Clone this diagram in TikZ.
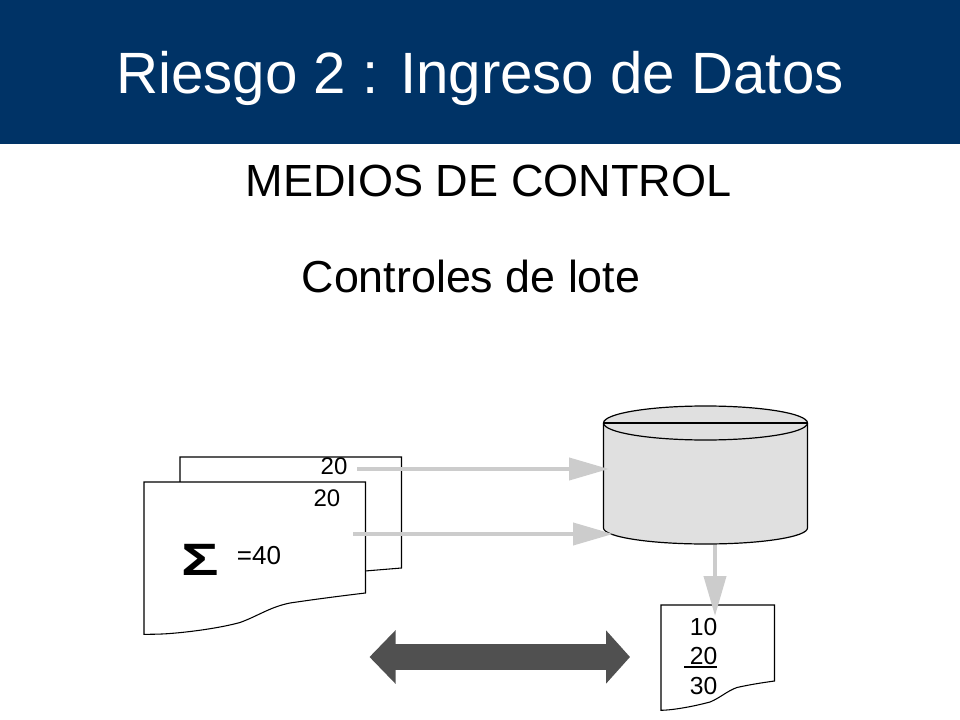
\documentclass[tikz,border=0pt]{standalone}
\usepackage{fontspec}
\setmainfont{Liberation Sans}
\usetikzlibrary{arrows.meta}
\definecolor{banner}{HTML}{003366}
\definecolor{flow}{HTML}{CCCCCC}
\definecolor{link}{HTML}{505050}
\definecolor{drum}{HTML}{E0E0E0}
\newcommand{\fsz}[1]{\fontsize{#1}{#1}\selectfont}
\tikzset{
  x=0.75pt,y=-0.75pt,
  lbl/.style={inner sep=0pt,text=black,anchor=center},
  sheet/.style={draw=black,line width=0.8pt,fill=white},
  flowarrow/.style={draw=flow,line width=3pt,-{Triangle[length=30pt,width=16.5pt,fill=flow]}},
  linkarrow/.style={draw=link,line width=19.5pt,{Triangle[length=19.5pt,width=39pt,fill=link]}-{Triangle[length=18pt,width=39pt,fill=link]}},
  drumline/.style={draw=black,line width=0.9pt}
}
\begin{document}
\begin{tikzpicture}
\useasboundingbox (0,0) rectangle (960,720);
\fill[white] (0,0) rectangle (960,720);
\fill[banner] (0,0) rectangle (960,144);
\node[lbl,text=white] (title) at (480,78) {\fsz{43.7}Riesgo 2 : Ingreso de Datos};
\node[lbl] (heading) at (488.5,181) {\fsz{33.8}MEDIOS DE CONTROL};
\node[lbl] (sub) at (471,276) {\fsz{33.6}Controles de lote};

% back and front sheets
\draw[sheet] (180,457) -- (401.5,457) -- (401.5,568) -- (365,571) -- (180,590) -- cycle;
\node[lbl] (backval) at (334,466.5) {\fsz{18}20};
\draw[sheet] (144,482) -- (365.5,482) -- (365.5,593)
  .. controls (340,596) and (310,600) .. (290,603)
  .. controls (270,607) and (258,616) .. (240,622.5)
  .. controls (220,628) and (190,632) .. (170,633.5)
  .. controls (160,634.3) and (150,634.3) .. (144,634.3) -- cycle;
\node[lbl] (frontval) at (327,498.5) {\fsz{18}20};
\node[lbl,xscale=1.38] (sigma) at (200,560) {\fsz{34}\textbf{Σ}};
\node[lbl] (total) at (259,556) {\fsz{19.5}=40};

% drum
\path[fill=drum] (603.5,423) arc[start angle=180,end angle=360,x radius=102,y radius=17]
  -- (807.5,528) arc[start angle=0,end angle=180,x radius=102,y radius=16] -- cycle;
\draw[drumline] (603.5,423) arc[start angle=180,end angle=360,x radius=102,y radius=17]
  -- (807.5,528) arc[start angle=0,end angle=180,x radius=102,y radius=16] -- cycle;
\draw[drumline] (603.5,423) -- (807.5,423);
\draw[drumline] (603.5,423) arc[start angle=180,end angle=0,x radius=102,y radius=17];
\node[inner sep=0pt,minimum width=153pt,minimum height=103pt] (drumnode) at (705.5,475) {};

% result sheet
\draw[sheet] (661,605) -- (774.5,605) -- (774.5,681)
  .. controls (760,683) and (748,685) .. (737,687.5)
  .. controls (727,691) and (720,698) .. (710,702)
  .. controls (695,706) and (675,710) .. (661,710.3) -- cycle;
\node[lbl] (n10) at (703.5,627) {\fsz{18.5}10};
\node[lbl] (n20) at (703.5,656) {\fsz{18.5}20};
\node[lbl] (n30) at (703.5,686) {\fsz{18.5}30};
\coordinate (ulA) at (684,667);
\coordinate (ulB) at (717,667);
\draw[black,line width=0.8pt] (ulA) -- (ulB);

% connectors
\coordinate (a1s) at (357,469);
\coordinate (a1e) at (609,469);
\coordinate (a2s) at (353,534);
\coordinate (a2e) at (613,534);
\coordinate (a3s) at (715,545);
\coordinate (a3e) at (715,616);
\draw[flowarrow] (a1s) -- (a1e);
\draw[flowarrow] (a2s) -- (a2e);
\draw[flowarrow] (a3s) -- (a3e);
\coordinate (dl) at (369.5,657);
\coordinate (dr) at (630,657);
\draw[linkarrow] (dl) -- (dr);
\end{tikzpicture}
\end{document}
